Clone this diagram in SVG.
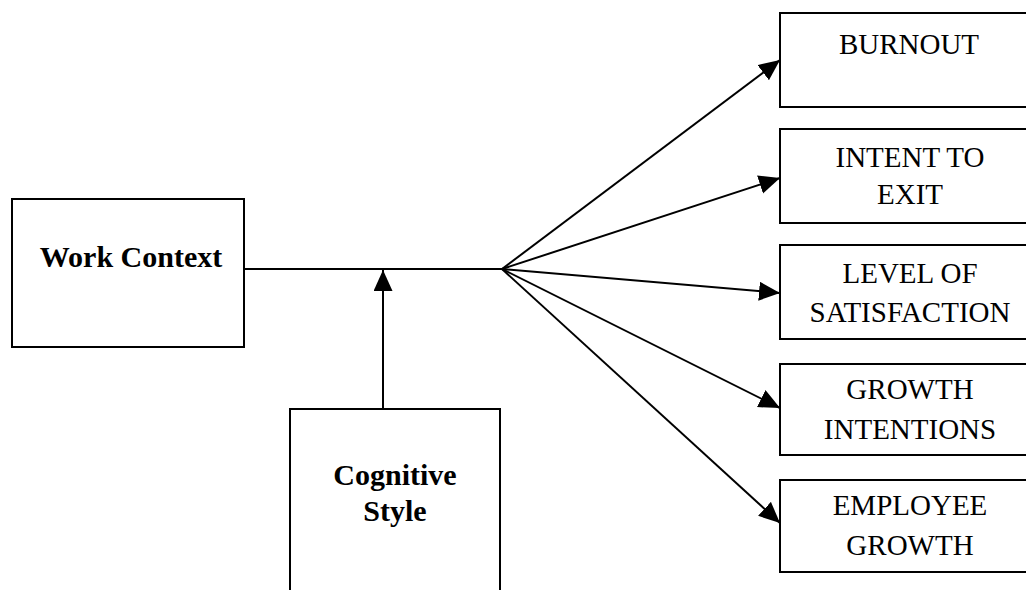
<svg xmlns="http://www.w3.org/2000/svg" width="1026" height="590" viewBox="0 0 1026 590">
<style>
.box{fill:#fff;stroke:#000;stroke-width:2}
.lbl{font-family:"Liberation Serif","Times New Roman",serif;font-size:29px;fill:#000;text-anchor:middle}
.b{font-weight:bold;font-size:30px}
.conn{stroke:#000;stroke-width:2;fill:none}
</style>
<defs>
<marker id="arr" markerUnits="userSpaceOnUse" markerWidth="22" markerHeight="20" refX="21" refY="9.5" orient="auto">
<path d="M0,0 L21,9.5 L0,19 z" fill="#000"/>
</marker>
</defs>
<g id="connectors">
<line class="conn" x1="244" y1="269" x2="502" y2="269"/>
<line class="conn" x1="383" y1="409" x2="383" y2="270" marker-end="url(#arr)"/>
<line class="conn" x1="502" y1="269" x2="780" y2="60" marker-end="url(#arr)"/>
<line class="conn" x1="502" y1="269" x2="780" y2="178" marker-end="url(#arr)"/>
<line class="conn" x1="502" y1="269" x2="780" y2="293" marker-end="url(#arr)"/>
<line class="conn" x1="502" y1="269" x2="780" y2="408" marker-end="url(#arr)"/>
<line class="conn" x1="502" y1="269" x2="780" y2="523" marker-end="url(#arr)"/>
</g>
<g id="work-context">
<rect class="box" x="12" y="199" width="232" height="148"/>
<text class="lbl b" x="131" y="267">Work Context</text>
</g>
<g id="cognitive-style">
<rect class="box" x="290" y="409" width="210" height="200"/>
<text class="lbl b" x="395" y="485">Cognitive</text>
<text class="lbl b" x="395" y="521">Style</text>
</g>
<g id="burnout">
<rect class="box" x="780" y="13" width="270" height="94"/>
<text class="lbl" x="909" y="54">BURNOUT</text>
</g>
<g id="intent-to-exit">
<rect class="box" x="780" y="129" width="270" height="94"/>
<text class="lbl" x="910" y="167">INTENT TO</text>
<text class="lbl" x="910" y="204">EXIT</text>
</g>
<g id="level-of-satisfaction">
<rect class="box" x="780" y="245" width="270" height="94"/>
<text class="lbl" x="910" y="283">LEVEL OF</text>
<text class="lbl" x="910" y="322">SATISFACTION</text>
</g>
<g id="growth-intentions">
<rect class="box" x="780" y="364" width="270" height="91"/>
<text class="lbl" x="910" y="399">GROWTH</text>
<text class="lbl" x="910" y="439">INTENTIONS</text>
</g>
<g id="employee-growth">
<rect class="box" x="780" y="480" width="270" height="92"/>
<text class="lbl" x="910" y="515">EMPLOYEE</text>
<text class="lbl" x="910" y="555">GROWTH</text>
</g>
</svg>
